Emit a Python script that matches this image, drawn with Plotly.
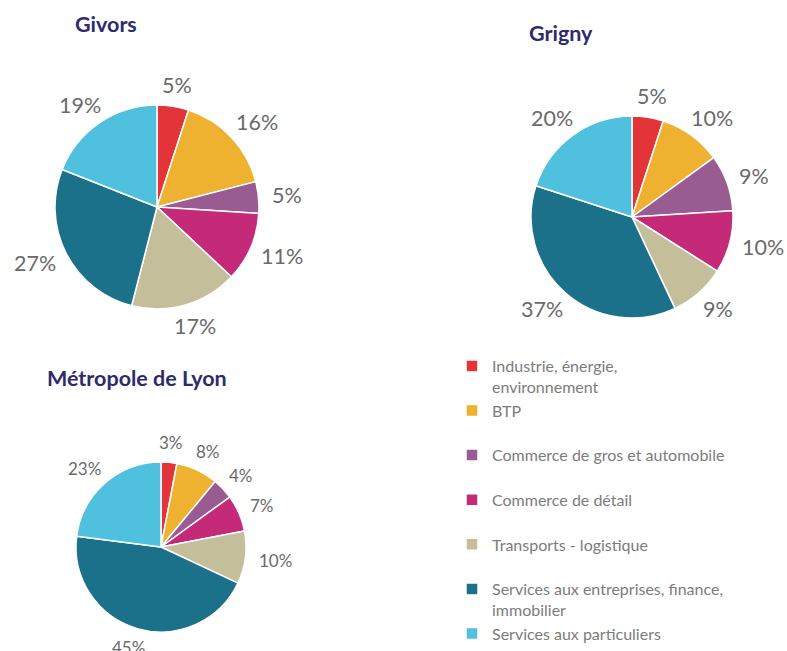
import math
import plotly.graph_objects as go

# Sectors shown in each pie (same order, clockwise from 12 o'clock)
categories = [
    "Industrie, énergie, environnement",
    "BTP",
    "Commerce de gros et automobile",
    "Commerce de détail",
    "Transports - logistique",
    "Services aux entreprises, finance, immobilier",
    "Services aux particuliers",
]
colors = ["#E3343A", "#EEB230", "#985B92", "#C42A78", "#C5BE9A", "#1B7189", "#4FC1DF"]

givors = [5, 16, 5, 11, 17, 27, 19]
grigny = [5, 10, 9, 10, 9, 37, 20]
lyon = [3, 8, 4, 7, 10, 45, 23]

# Legend labels wrapped over two lines so the entries share one height
legend_labels = [
    "Industrie, énergie,<br>environnement",
    "BTP<br>\u00a0",
    "Commerce de gros et automobile<br>\u00a0",
    "Commerce de détail<br>\u00a0",
    "Transports - logistique<br>\u00a0",
    "Services aux entreprises, finance,<br>immobilier",
    "Services aux particuliers",
]

W, H = 787, 651
LABEL_GRAY = "#6A6A6A"


def domain(cx, cy, r):
    return dict(x=[(cx - r) / W, (cx + r) / W],
                y=[(H - cy - r) / H, (H - cy + r) / H])


def value_labels(vals, cx, cy, r, fsize, gap=15):
    """Percent labels set just outside each slice, along its mid-angle."""
    out = []
    total = float(sum(vals))
    cum = 0.0
    for v in vals:
        theta = (cum + v / 2.0) / total * 2 * math.pi
        cum += v
        sx, sy = math.sin(theta), -math.cos(theta)
        txt = f"{v}%"
        half_w = fsize * (0.58 * (len(txt) - 1) + 0.85) / 2 - 2
        half_h = fsize * 0.3
        px = cx + (r + gap) * sx + sx * half_w
        py = cy + (r + gap) * sy + sy * half_h
        out.append(dict(
            text=txt, x=px / W, y=1 - py / H, xref="paper", yref="paper",
            xanchor="center", yanchor="middle", showarrow=False,
            font=dict(family="Lato", size=fsize, color=LABEL_GRAY),
        ))
    return out


panels = [
    ("Givors", givors, (157, 207, 102), 21.5, True),
    ("Grigny", grigny, (632, 217, 101), 21.5, False),
    ("Métropole de Lyon", lyon, (161, 547, 85), 17, False),
]

fig = go.Figure()
annotations = []
for name, vals, (cx, cy, r), fsize, show in panels:
    fig.add_trace(go.Pie(
        labels=legend_labels,
        values=vals,
        name=name,
        sort=False,
        direction="clockwise",
        rotation=0,
        domain=domain(cx, cy, r),
        marker=dict(colors=colors, line=dict(color="white", width=1.5)),
        textinfo="none",
        showlegend=show,
        hoverinfo="label+value",
    ))
    annotations += value_labels(vals, cx, cy, r, fsize)

title_font = dict(family="Lato", size=21.5, color="#2E2B6C")
titles = [("<b>Givors</b>", 106, 24), ("<b>Grigny</b>", 561, 33),
          ("<b>Métropole de Lyon</b>", 137, 378)]
annotations += [
    dict(text=t, x=x / W, y=1 - y / H, xref="paper", yref="paper",
         xanchor="center", yanchor="middle", showarrow=False, font=title_font)
    for t, x, y in titles
]

fig.update_layout(
    width=W, height=H,
    margin=dict(l=0, r=0, t=0, b=0),
    paper_bgcolor="white",
    plot_bgcolor="white",
    annotations=annotations,
    legend=dict(
        x=452 / W, y=0, xanchor="left", yanchor="bottom",
        font=dict(family="Lato", size=16, color="#7C7C7C"),
        valign="top",
        traceorder="normal",
        itemclick=False,
    ),
)

fig.write_html("out.html")
